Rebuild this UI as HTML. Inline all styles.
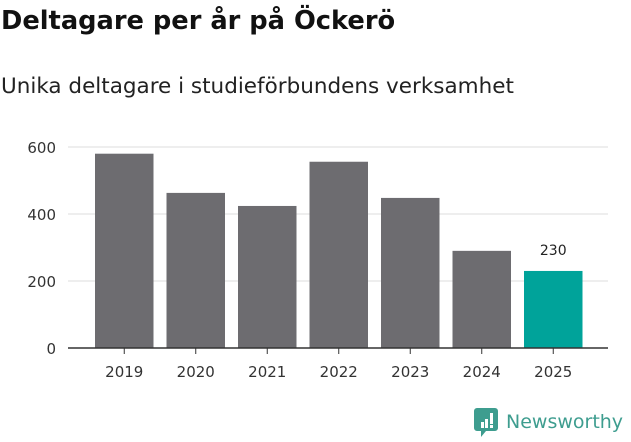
<!DOCTYPE html>
<html><head><meta charset="utf-8"><style>
body{margin:0;width:631px;height:439px;background:#fff;overflow:hidden;font-family:"DejaVu Sans","Liberation Sans",sans-serif;}
h1{position:absolute;left:1px;top:6px;margin:0;font-size:25.7px;font-weight:bold;color:#111;white-space:nowrap;}
h2{position:absolute;left:1px;top:74px;margin:0;font-size:21.5px;font-weight:normal;color:#222;white-space:nowrap;}
svg{position:absolute;left:0;top:0}
svg text{font-family:"DejaVu Sans","Liberation Sans",sans-serif;}
</style></head><body>
<h1>Deltagare per år på Öckerö</h1>
<h2>Unika deltagare i studieförbundens verksamhet</h2>
<svg id="c" width="631" height="439"></svg>
<script>
const categories=["2019","2020","2021","2022","2023","2024","2025"];
const values=[580,463,424,556,448,290,230];
const yTicks=[0,200,400,600];
const labeledValues=[false,false,false,false,false,false,true];
const svg=document.getElementById('c');
const NS='http://www.w3.org/2000/svg';
const y0=348,pxPer=201/600;
const y=v=>y0-v*pxPer;
const x=i=>95+i*71.5;
const bw=58.5;
function mk(t,a){const e=document.createElementNS(NS,t);for(const k in a)e.setAttribute(k,a[k]);svg.appendChild(e);return e;}
yTicks.forEach(t=>{
  if(t>0){const l=mk('line',{x1:68,x2:608,y1:y(t),y2:y(t),stroke:'#ddd','stroke-width':1});
  
  }
  const tx=mk('text',{x:56,y:y(t)+6,'text-anchor':'end','font-size':15,fill:'#333'});tx.textContent=t;
  
  
});
categories.forEach((c,i)=>{
  const r=mk('rect',{x:x(i),y:y(values[i]),width:bw,height:values[i]*pxPer,fill:i===6?'#00a39a':'#6d6c70'});
  
  
  const tk=mk('line',{x1:x(i)+bw/2,x2:x(i)+bw/2,y1:y0,y2:y0+6,stroke:'#333'});
  
  
  const t=mk('text',{x:x(i)+bw/2,y:377,'text-anchor':'middle','font-size':15,fill:'#333'});t.textContent=c;
  
  
  if(labeledValues[i]){const v=mk('text',{x:x(i)+bw/2,y:y(values[i])-16,'text-anchor':'middle','font-size':14,fill:'#222'});v.textContent=values[i];
  
  }
});
const ax=mk('line',{x1:68,x2:608,y1:y0,y2:y0,stroke:'#333','stroke-width':1.5});


</script>
<svg width="160" height="40" style="left:472px;top:402px">
<path d="M5 6h18a3 3 0 0 1 3 3v17a3 3 0 0 1-3 3h-9l-5 6v-6h-4a3 3 0 0 1-3-3v-17a3 3 0 0 1 3-3z" fill="#3e9d8f"/>
<rect x="9" y="20" width="3" height="6" fill="#fff"/><rect x="13" y="17" width="3" height="9" fill="#fff"/><rect x="18" y="11" width="3" height="11" fill="#fff"/><rect x="18" y="23" width="3" height="3" fill="#fff"/>
<text x="34" y="26" font-size="19" fill="#3e9d8f">Newsworthy</text>
</svg>
</body></html>
